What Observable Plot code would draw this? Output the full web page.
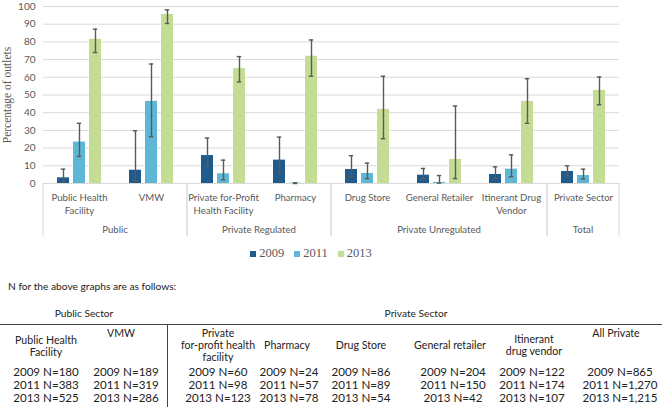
<!DOCTYPE html>
<html><head><meta charset="utf-8">
<script src="https://cdn.jsdelivr.net/npm/d3@7"></script>
<script src="https://cdn.jsdelivr.net/npm/@observablehq/plot@0.6"></script>
<style>
body{margin:0;background:#fff;width:662px;height:407px;overflow:hidden;position:relative;font-family:Lato,"Open Sans",sans-serif;color:#222;}
#chart{position:absolute;left:0;top:0;}
.abs{position:absolute;white-space:pre;line-height:1.15;}
#ylabel{position:absolute;left:7px;top:95px;transform:translate(-50%,-50%) rotate(-90deg);font-family:"Liberation Serif",serif;font-size:11.5px;color:#595959;white-space:nowrap;}
#legend{position:absolute;left:0;top:246px;width:622px;display:flex;justify-content:center;font-family:"Liberation Serif",serif;font-size:12.5px;color:#595959;}
#legend span.item{display:flex;align-items:center;margin:0 5px;}
#legend span.sw{width:6px;height:6px;display:inline-block;margin-right:3px;}
</style></head><body>
<div id="chart"></div>
<div id="ylabel">Percentage of outlets</div>
<div id="legend"></div>
<div id="table"></div>
<script>
// ---- chart data ----
const categories = ["Public Health Facility","VMW","Private for-Profit Health Facility","Pharmacy","Drug Store","General Retailer","Itinerant Drug Vendor","Private Sector"];
const categoryLabels = ["Public Health\nFacility","VMW","Private for-Profit\nHealth Facility","Pharmacy","Drug Store","General Retailer","Itinerant Drug\nVendor","Private Sector"];
const groups = ["Public","Private Regulated","Private Unregulated","Total"];
const groupOf = ["Public","Public","Private Regulated","Private Regulated","Private Unregulated","Private Unregulated","Private Unregulated","Total"];
const years = ["2009","2011","2013"];
const colors = ["#1f5b8c","#5fb7d6","#c4dd94"];
const v2009 = [3.2, 7.5, 15.8, 13.2, 7.9, 4.7, 5.1, 6.8];
const lo2009 = [0.8, 1.5, 9.4, 6.0, 3.8, 2.5, 2.6, 4.5];
const hi2009 = [8.1, 29.8, 25.7, 26.2, 15.7, 8.5, 9.4, 10.0];
const v2011 = [23.4, 46.4, 5.5, 0.2, 5.7, 0.6, 8.1, 4.5];
const lo2011 = [15.3, 26.4, 2.1, 0.0, 2.8, 0.2, 3.8, 2.5];
const hi2011 = [34.0, 67.5, 13.2, 0.4, 11.5, 4.5, 16.2, 8.1];
const v2013 = [81.5, 95.5, 64.9, 71.9, 41.9, 13.6, 46.4, 52.6];
const lo2013 = [74.0, 90.4, 57.4, 60.6, 25.3, 2.8, 34.0, 44.5];
const hi2013 = [87.2, 98.1, 71.7, 81.1, 60.6, 43.8, 59.2, 60.2];
const yTicks = [0,10,20,30,40,50,60,70,80,90,100];

// ---- table data ----
const publicSectorLabel = "Public Sector";
const privateSectorLabel = "Private Sector";
const introText = "N for the above graphs are as follows:";
const tableHeaders = ["Public Health\nFacility","VMW","Private\nfor-profit health\nfacility","Pharmacy","Drug Store","General retailer","Itinerant\ndrug vendor","All Private"];
const n2009 = ["180","189","60","24","86","204","122","865"];
const n2011 = ["383","319","98","57","89","150","174","1,270"];
const n2013 = ["525","286","123","78","54","42","107","1,215"];

// ---- build chart ----
const vals = [v2009, v2011, v2013], los = [lo2009, lo2011, lo2013], his = [hi2009, hi2011, hi2013];
const rows = [];
categories.forEach((c, i) => years.forEach((yr, j) => rows.push({cat: c, year: yr, value: vals[j][i], lo: los[j][i], hi: his[j][i]})));
const catRows = categories.map((c, i) => ({cat: c, label: categoryLabels[i]}));
const err = {stroke: "#5a5a5a", strokeWidth: 1.4};

const plot = Plot.plot({
  width: 662, height: 240,
  marginTop: 6, marginBottom: 57, marginLeft: 40, marginRight: 40,
  style: {fontFamily: "Lato, sans-serif", fontSize: "10px", color: "#595959", background: "transparent", overflow: "visible"},
  fx: {domain: categories, padding: 0, axis: null},
  x: {domain: years, paddingInner: 0.22, paddingOuter: 0.84, axis: null},
  y: {domain: [0, 100], ticks: yTicks, label: null, tickSize: 0, tickPadding: 8},
  color: {domain: years, range: colors},
  marks: [
    Plot.ruleY(yTicks, {stroke: "#d9d9d9", strokeWidth: 1}),
    Plot.barY(rows, {fx: "cat", x: "year", y: "value", fill: "year"}),
    Plot.ruleX(rows, {fx: "cat", x: "year", y1: "lo", y2: "hi", ...err}),
    Plot.tickY(rows, {fx: "cat", x: "year", y: "hi", insetLeft: 3.8, insetRight: 3.8, ...err}),
    Plot.tickY(rows, {fx: "cat", x: "year", y: "lo", insetLeft: 3.8, insetRight: 3.8, ...err}),
    Plot.text(catRows, {fx: "cat", text: "label", frameAnchor: "bottom", lineAnchor: "top", dy: 9, fill: "#595959", fontSize: 9.6, lineHeight: 1.3})
  ]
});
document.getElementById("chart").appendChild(plot);

// group separators and group labels, positioned with the fx scale
const fx = plot.scale("fx");
const svg = d3.select(plot);
const yScale = plot.scale("y");
const base = yScale.apply(0);
const gg = svg.append("g");
groups.forEach(gname => {
  const members = categories.filter((c, i) => groupOf[i] === gname);
  const x0 = fx.apply(members[0]);
  const x1 = fx.apply(members[members.length - 1]) + fx.bandwidth;
  gg.append("text").attr("x", (x0 + x1) / 2).attr("y", base + 50)
    .attr("text-anchor", "middle").attr("fill", "#595959").attr("font-size", 9.6).text(gname);
  [x0, x1].forEach(xx => gg.append("line").attr("x1", xx).attr("x2", xx).attr("y1", base).attr("y2", base + 53)
    .attr("stroke", "#d9d9d9").attr("stroke-width", 1));
});

// legend
const legend = d3.select("#legend");
years.forEach((yr, j) => {
  const it = legend.append("span").attr("class", "item");
  it.append("span").attr("class", "sw").style("background", colors[j]);
  it.append("span").text(yr);
});

// table
const colX = [46, 126, 218, 289, 361, 453, 532, 620];
const headX = [46, 121, 218, 287, 361, 450, 534, 616];
const headTop = [334, 327, 327, 339, 339, 339, 333, 327];
const T = d3.select("#table");
const addText = (txt, x, y, size, lh) => T.append("div").attr("class", "abs")
  .style("left", (x - 100) + "px").style("width", "200px").style("text-align", "center")
  .style("top", y + "px").style("font-size", size + "px").style("line-height", lh || 1.15).style("color", "#222").text(txt);
T.append("div").attr("class", "abs").style("left", "8px").style("top", "281px").style("font-size", "10.2px").text(introText);
addText(publicSectorLabel, 84, 308, 10.2);
addText(privateSectorLabel, 416, 308, 10.2);
T.append("div").style("position", "absolute").style("left", "0px").style("top", "324px").style("width", "662px").style("height", "1px").style("background", "#444");
T.append("div").style("position", "absolute").style("left", "167px").style("top", "325px").style("width", "1px").style("height", "82px").style("background", "#444");
tableHeaders.forEach((h, i) => {
  addText(h, headX[i], headTop[i], 10.6);
  addText("2009 N=" + n2009[i], colX[i], 366, 11.6, "12px");
  addText("2011 N=" + n2011[i], colX[i], 379, 11.6, "12px");
  addText("2013 N=" + n2013[i], colX[i], 392, 11.6, "12px");
});
</script>
</body></html>
